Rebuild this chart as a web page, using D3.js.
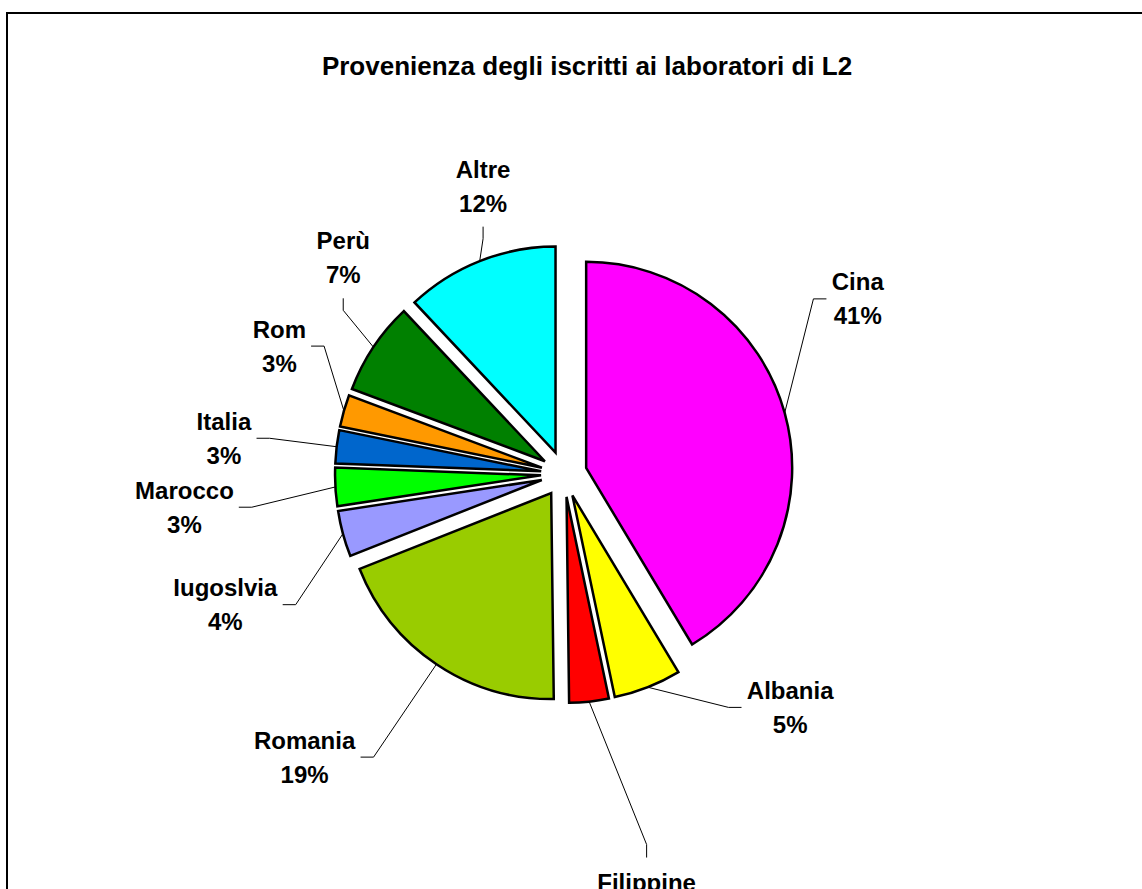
<!DOCTYPE html>
<html>
<head>
<meta charset="utf-8">
<script src="https://cdn.jsdelivr.net/npm/d3@7"></script>
<style>
  body { margin: 0; background: #fff; }
  svg { display: block; }
  text { font-family: "Liberation Sans", Arial, sans-serif; font-weight: bold; fill: #000; }
</style>
</head>
<body>
<svg id="chart" width="1142" height="889"></svg>
<script>
// data: share of each origin (percent)
const countries = ["Cina", "Albania", "Filippine", "Romania", "Iugoslvia", "Marocco", "Italia", "Rom", "Perù", "Altre"];
const shares = [41.4, 5.3, 3.1, 19.2, 3.6, 3.0, 2.6, 2.5, 7.3, 12.0];
const sliceColors = ["#ff00ff", "#ffff00", "#ff0000", "#99cc00", "#9999ff", "#00ff00", "#0066cc", "#ff9900", "#008000", "#00ffff"];
const chartTitle = "Provenienza degli iscritti ai laboratori di L2";

// where the labels sit: angle (deg, clockwise from 12 o'clock) and distance from pie centre
const labelAngle = [59.2, 135.9, 169.0, 222.5, 248.9, 265.0, 276.0, 294.2, 314.4, 344.3];
const labelDist = [342, 325, 433, 384, 363, 381, 342, 312, 309, 299];

const width = 1142, height = 889;
const cx = 564, cy = 474, radius = 206, explode = 23;
const fontSize = 24, lineGap = 34, capH = 17;

const svg = d3.select("#chart");

// outer frame (only top & left edges are visible in the crop)
svg.append("rect")
    .attr("x", 7).attr("y", 13)
    .attr("width", width).attr("height", height)
    .attr("fill", "none")
    .attr("stroke", "#000")
    .attr("stroke-width", 2);

svg.append("text")
    .attr("x", 587).attr("y", 75)
    .attr("text-anchor", "middle")
    .attr("font-size", 26)
    .text(chartTitle);

const data = countries.map((c, i) => ({ name: c, value: shares[i], color: sliceColors[i] }));

const pie = d3.pie().sort(null).value(d => d.value);
const arc = d3.arc().innerRadius(0).outerRadius(radius);
const arcs = pie(data);

const polar = (a, r) => [r * Math.sin(a), -r * Math.cos(a)];
const mid = d => (d.startAngle + d.endAngle) / 2;

const g = svg.append("g").attr("transform", `translate(${cx},${cy})`);
const leaders = g.append("g");
const slices = g.append("g");
const labels = g.append("g");

slices.selectAll("path")
    .data(arcs)
    .join("path")
    .attr("transform", d => {
        const [x, y] = polar(mid(d), explode);
        return `translate(${x},${y})`;
    })
    .attr("d", arc)
    .attr("fill", d => d.data.color)
    .attr("stroke", "#000")
    .attr("stroke-width", 2.5)
    .attr("stroke-linejoin", "miter");

arcs.forEach((d, i) => {
    const [lx, ly] = polar(labelAngle[i] * Math.PI / 180, labelDist[i]);
    const t = labels.append("text")
        .attr("text-anchor", "middle")
        .attr("font-size", fontSize);
    t.append("tspan").attr("x", lx).attr("y", ly - lineGap / 2 + capH / 2).text(d.data.name);
    t.append("tspan").attr("x", lx).attr("y", ly + lineGap / 2 + capH / 2).text(Math.round(d.data.value) + "%");

    const w = t.node().getBBox().width;
    const left = lx - w / 2, right = lx + w / 2;
    const top = ly - lineGap / 2 - capH / 2, bottom = ly + lineGap / 2 + capH / 2;

    // leader line: from the slice edge to a short elbow next to the label
    const p = polar(mid(d), radius + explode);
    let elbow, end;
    if (p[0] > left - 12 && p[0] < right + 12) {
        if (p[1] > bottom) { end = [lx, bottom + 15]; elbow = [lx, bottom + 27]; }
        else { end = [lx, top - 16]; elbow = [lx, top - 29]; }
    } else if (p[0] < left) {
        end = [left - 5, ly]; elbow = [left - 18, ly];
    } else {
        end = [right + 5, ly]; elbow = [right + 18, ly];
    }
    leaders.append("path")
        .attr("d", d3.line()([p, elbow, end]))
        .attr("fill", "none")
        .attr("stroke", "#000")
        .attr("stroke-width", 1);
});
</script>
</body>
</html>
